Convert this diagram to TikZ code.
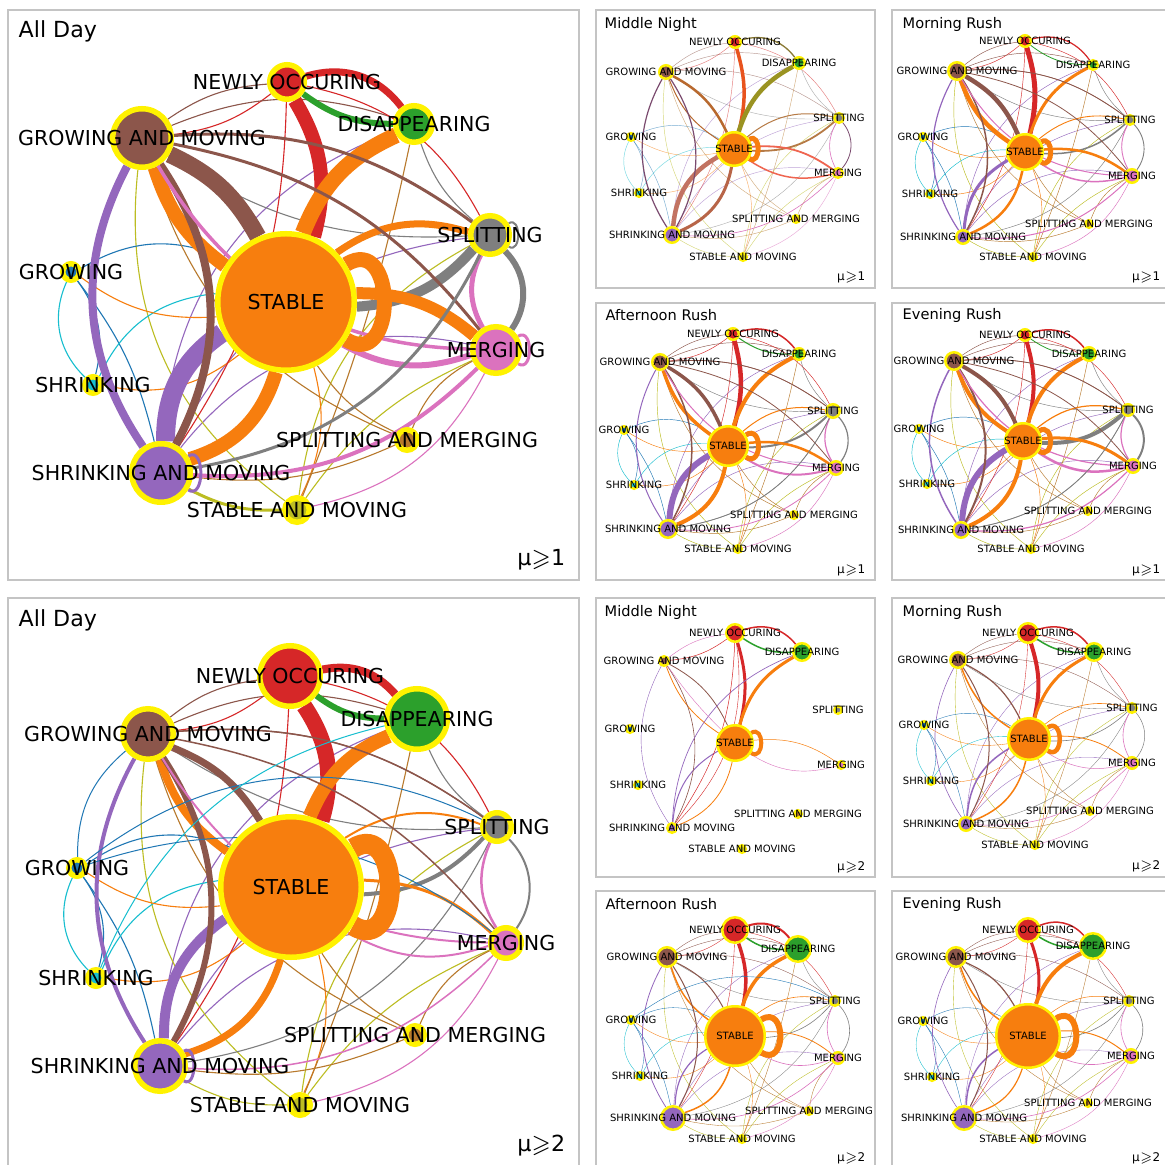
\documentclass[tikz,border=0pt]{standalone}
\usepackage{amssymb}
\usepackage{fontspec}
\setmainfont{DejaVu Sans}
\usetikzlibrary{positioning}

\definecolor{c-st}{HTML}{F77E0E}
\definecolor{c-no}{HTML}{D62728}
\definecolor{c-dis}{HTML}{2CA02C}
\definecolor{c-gam}{HTML}{8C564B}
\definecolor{c-gr}{HTML}{1F77B4}
\definecolor{c-sh}{HTML}{17BECF}
\definecolor{c-sam}{HTML}{9467BD}
\definecolor{c-stm}{HTML}{BCBD22}
\definecolor{c-spm}{HTML}{B8792C}
\definecolor{c-mer}{HTML}{DB72BE}
\definecolor{c-spl}{HTML}{7F7F7F}
\definecolor{c-frm}{HTML}{C4C4C4}
% mixed colours of the middle night graph
\definecolor{c-mno}{HTML}{E8531E}
\definecolor{c-mst}{HTML}{9A9322}
\definecolor{c-mnd}{HTML}{8A7A35}
\definecolor{c-mgam}{HTML}{B8692F}
\definecolor{c-msam}{HTML}{C27362}
\definecolor{c-msam2}{HTML}{B86548}
\definecolor{c-mspl}{HTML}{B67A45}
\definecolor{c-mmer}{HTML}{EF6550}
\definecolor{c-mgs}{HTML}{7B4B6F}

\newcommand\txtno{NEWLY OCCURING}
\newcommand\txtdis{DISAPPEARING}
\newcommand\txtgam{GROWING AND MOVING}
\newcommand\txtgr{GROWING}
\newcommand\txtsh{SHRINKING}
\newcommand\txtsam{SHRINKING AND MOVING}
\newcommand\txtstm{STABLE AND MOVING}
\newcommand\txtspm{SPLITTING AND MERGING}
\newcommand\txtmer{MERGING}
\newcommand\txtspl{SPLITTING}
\newcommand\txtst{STABLE}

\pgfdeclarelayer{bg}
\pgfdeclarelayer{edges}
\pgfdeclarelayer{labels}
\pgfsetlayers{bg,edges,main,labels}

% nodes of one graph: panel, ring width, font size, name/x/y/radius
\newcommand\vertices[4]{%
  \foreach \nn/\nx/\ny/\nr in {#4}{%
    \node[vert=c-\nn, line width=#2*0.01cm, minimum size=(2*\nr-#2)*0.01cm] (#1-\nn) at (\nx,-\ny) {};
    \begin{pgfonlayer}{labels}
      \node[font=\fontsize{#3}{#3}\selectfont, inner sep=0pt] at (#1-\nn) {\csname txt\nn\endcsname};
    \end{pgfonlayer}}}

% edges: from/to/colour/width/bend
\newcommand\net[2]{%
  \begin{pgfonlayer}{edges}
    \foreach \ea/\eb/\ec/\ew/\et in {#2}{%
      \draw[draw=c-\ec, line width=\ew*0.01cm] (#1-\ea) to[bend left=\et] (#1-\eb);}
  \end{pgfonlayer}}

% the many thin edges every graph shares
\def\thinlist{gam/spl/gam/20, gam/no/gam/15, no/gam/no/15, gam/dis/gam/20,
  no/spl/no/25, sam/dis/sam/33, sam/spl/sam/28, sam/mer/sam/32,
  gam/stm/stm/-30, spl/stm/stm/-27, mer/stm/stm/-15, gr/st/gr/28,
  gr/sam/gr/12, sh/st/sh/30, gr/sh/sh/-35, gr/sh/gr/25, sh/st/st/-25,
  gr/st/st/-20, st/stm/st/20, sam/spm/spm/-15, st/spm/spm/-15,
  spm/mer/spm/20, mer/stm/mer/25, spl/gam/spl/18, dis/spl/spl/-15,
  dis/stm/spm/5, gam/spm/spm/-25, sam/stm/stm/-15, sam/spl/spl/-27,
  no/sam/no/16}
\newcommand\thinnet[3]{%
  \begin{pgfonlayer}{edges}
    \foreach \ea/\eb/\ec/\et in \thinlist {%
      \draw[draw=c-\ec, line width=#2*0.01cm, #3] (#1-\ea) to[bend left=\et] (#1-\eb);}
  \end{pgfonlayer}}

% self loop on the right of a node: panel, node, reach, width
\newcommand\sloop[5][]{%
  \begin{pgfonlayer}{edges}
    \draw[draw=c-#3, line width=#5*0.01cm, #1] (#2-#3.32) .. controls +(32:#4) and +(-32:#4) .. (#2-#3.-32);
  \end{pgfonlayer}}

\begin{document}
\begin{tikzpicture}[x=0.01cm, y=0.01cm,
  vert/.style={circle, inner sep=0pt, draw=yellow, fill=#1},
  frm/.style={draw=c-frm, line width=0.015cm},
  ttlbig/.style={anchor=west, inner sep=0pt, font=\fontsize{6.3}{7}\selectfont},
  ttlsm/.style={anchor=west, inner sep=0pt, font=\fontsize{4.15}{5}\selectfont},
  mubig/.style={anchor=east, inner sep=0pt, font=\fontsize{6.3}{7}\selectfont},
  musm/.style={anchor=east, inner sep=0pt, font=\fontsize{3.4}{4}\selectfont}]

\useasboundingbox (0,0) rectangle (1164,-1165);
\begin{pgfonlayer}{bg}
  \fill[white] (0,0) rectangle (1164,-1165);
  \draw[frm] (8,-10) rectangle (579,-580);
  \draw[frm] (8,-598) rectangle (579,-1167);
  \draw[frm] (596,-10) rectangle (875,-288);
  \draw[frm] (892,-10) rectangle (1167,-288);
  \draw[frm] (596,-303) rectangle (875,-580);
  \draw[frm] (892,-303) rectangle (1167,-580);
  \draw[frm] (596,-598) rectangle (875,-877);
  \draw[frm] (892,-598) rectangle (1167,-877);
  \draw[frm] (596,-891) rectangle (875,-1167);
  \draw[frm] (892,-891) rectangle (1167,-1167);
\end{pgfonlayer}

% titles and thresholds
\node[ttlbig] (tA) at (18,-31) {All Day};
\node[ttlbig] (tB) at (18,-620) {All Day};
\node[ttlsm] (tC) at (604,-24) {Middle Night};
\node[ttlsm] (tD) at (902,-24) {Morning Rush};
\node[ttlsm] (tE) at (605,-315) {Afternoon Rush};
\node[ttlsm] (tF) at (902,-315) {Evening Rush};
\node[ttlsm] (tG) at (604,-612) {Middle Night};
\node[ttlsm] (tH) at (902,-612) {Morning Rush};
\node[ttlsm] (tI) at (605,-904) {Afternoon Rush};
\node[ttlsm] (tJ) at (902,-904) {Evening Rush};
\node[mubig] (mA) at (566,-560) {μ$\geqslant$1};
\node[mubig] (mB) at (566,-1146) {μ$\geqslant$2};
\node[musm] (mC) at (866,-277) {μ$\geqslant$1};
\node[musm] (mD) at (1161,-277) {μ$\geqslant$1};
\node[musm] (mE) at (866,-570) {μ$\geqslant$1};
\node[musm] (mF) at (1161,-570) {μ$\geqslant$1};
\node[musm] (mG) at (866,-867) {μ$\geqslant$2};
\node[musm] (mH) at (1161,-866) {μ$\geqslant$2};
\node[musm] (mI) at (866,-1158) {μ$\geqslant$2};
\node[musm] (mJ) at (1161,-1158) {μ$\geqslant$2};

% All Day, mu >= 1
\vertices{A}{5.5}{5.85}{no/287/82/20, dis/414/124/21, gam/142/138/32, gr/71/272/11,
  sh/93/385/11, sam/161/473/32, stm/297/510/15, spm/407/440/13, mer/496/350/26,
  spl/490/235/22, st/286/302/71}
\thinnet{A}{1.1}{}
\net{A}{st/no/no/14/-23, st/dis/st/16/22, no/dis/dis/6/-18, no/dis/no/7/35,
  gam/st/gam/17/18, gam/st/st/14/-18, sam/st/sam/19/28, sam/st/st/14/-28,
  gam/sam/sam/8/-31, gam/sam/gam/8/31, st/spl/spl/10/-22, st/spl/st/7/26,
  st/mer/st/12/20, st/mer/mer/6/-24, spl/mer/spl/6/40, spl/mer/mer/5/-28,
  sam/mer/mer/4/-24, gam/spl/gam/3/20, gam/mer/gam/3/20, mer/gam/mer/3.5/29,
  sam/stm/stm/3/-15, sam/spl/spl/3/-27}
\sloop{A}{st}{60}{15}
\sloop{A}{sam}{20}{3}
\sloop{A}{spl}{15}{2}
\sloop{A}{mer}{18}{3}

% All Day, mu >= 2
\vertices{B}{5.5}{5.85}{no/290/676/33, dis/417/719/33, gam/148/734/28, gr/77/868/11,
  sh/96/978/11, sam/160/1066/28, stm/300/1105/13, spm/415/1035/12, mer/506/943/18,
  spl/497/827/17, st/291/887/73}
\thinnet{B}{1.1}{}
\net{B}{st/no/no/16/-25, st/dis/st/14/22, no/dis/dis/6/-18, no/dis/no/8/30,
  gam/st/gam/7/18, gam/st/st/8/-18, sam/st/sam/10/28, sam/st/st/7/-28,
  gam/sam/sam/4/-31, gam/sam/gam/6/31, st/spl/spl/4/-22, st/spl/st/2/26,
  st/mer/st/3/20, st/mer/mer/2/-24, spl/mer/spl/2/40, spl/mer/mer/2.5/-28,
  sam/mer/mer/1.5/-24, gam/spl/gam/1.5/20, gam/mer/gam/1.5/20, mer/gam/mer/2/29,
  gr/spl/gr/1/32, sh/dis/sh/1/27, gam/gr/gr/1/-25, gr/mer/gr/1/28}
\sloop{B}{st}{58}{20}
\sloop{B}{sam}{16}{3}

% Middle Night, mu >= 1
\vertices{C}{2.5}{2.85}{no/735/42/7, dis/799/63/7, gam/666/72/8, gr/631/137/5,
  sh/639/193/5, sam/672/235/9, stm/743/257/5, spm/796/219/5, mer/838/173/6,
  spl/839/118/6, st/734/149/18}
\thinnet{C}{0.45}{opacity=.6}
\net{C}{st/no/mno/3.5/-15, st/dis/mst/4.5/22, no/dis/mnd/1.3/35,
  gam/st/mgam/2.5/18, gam/st/mgam/1/-18, sam/st/msam/4.5/28, sam/st/msam2/3/-28,
  gam/sam/mgs/1.2/-31, gam/sam/mgs/1.2/31, st/spl/mspl/1.8/-22, st/spl/mspl/1/26,
  st/mer/mmer/1.8/20, st/mer/mmer/1.5/-24, spl/mer/mgs/0.8/40, spl/mer/mer/0.6/-28,
  sam/mer/mer/0.6/-24}
\sloop{C}{st}{14}{5}

% Morning Rush, mu >= 1
\vertices{D}{2.5}{2.85}{no/1025/41/7, dis/1093/65/6, gam/957/71/10, gr/923/137/5,
  sh/930/194/5, sam/963/237/8, stm/1033/257/5, spm/1089/224/5, mer/1132/176/8,
  spl/1130/120/6, st/1025/152/19}
\thinnet{D}{0.45}{}
\net{D}{st/no/no/5/-15, st/dis/st/3/22, no/dis/dis/0.8/-18, no/dis/no/1.2/35,
  gam/st/gam/4.5/18, gam/st/st/4.5/-18, sam/st/sam/3/28, sam/st/st/2.5/-28,
  gam/sam/sam/1.2/-31, gam/sam/gam/1.5/31, st/spl/spl/1.5/-22, st/spl/st/0.9/26,
  st/mer/st/2.5/20, st/mer/mer/1.5/-24, spl/mer/spl/0.9/40, spl/mer/mer/0.9/-28,
  sam/mer/mer/1/-24, gam/spl/gam/0.8/20, gam/mer/gam/0.8/20, mer/gam/mer/1/29}
\sloop{D}{st}{15}{5}

% Afternoon Rush, mu >= 1
\vertices{E}{2.5}{2.85}{no/733/334/7, dis/799/354/7, gam/660/362/9, gr/624/430/5,
  sh/634/485/5, sam/668/529/10, stm/738/549/5, spm/794/515/5, mer/836/468/8,
  spl/833/411/8, st/728/446/21}
\thinnet{E}{0.45}{}
\net{E}{st/no/no/4.5/-15, st/dis/st/4/22, no/dis/dis/1/-18, no/dis/no/1.5/35,
  gam/st/gam/3.5/18, gam/st/st/3.5/-18, sam/st/sam/6/28, sam/st/st/4/-28,
  gam/sam/sam/1/-31, gam/sam/gam/1.5/31, st/spl/spl/2/-22, st/spl/st/1/26,
  st/mer/st/2.5/20, st/mer/mer/2/-24, spl/mer/spl/1.2/40, spl/mer/mer/1.2/-28,
  sam/mer/mer/0.8/-24, gam/spl/gam/0.8/20, gam/mer/gam/0.8/20, mer/gam/mer/1/29,
  sam/spl/spl/0.8/-27}
\sloop{E}{st}{20}{5}

% Evening Rush, mu >= 1
\vertices{F}{2.5}{2.85}{no/1025/335/7, dis/1089/354/8, gam/954/361/10, gr/919/429/5,
  sh/927/484/5, sam/961/530/9, stm/1031/549/5, spm/1088/511/5, mer/1133/466/8,
  spl/1128/410/7, st/1023/441/19}
\thinnet{F}{0.45}{}
\net{F}{st/no/no/4/-15, st/dis/st/4/22, no/dis/dis/0.8/-18, no/dis/no/1.5/35,
  gam/st/gam/4/18, gam/st/st/4/-18, sam/st/sam/6/28, sam/st/st/4/-28,
  gam/sam/sam/1.5/-31, gam/sam/gam/2/31, st/spl/spl/4/-22, st/spl/st/1.2/26,
  st/mer/st/3/20, st/mer/mer/2.5/-24, spl/mer/spl/2/40, spl/mer/mer/1.2/-28,
  sam/mer/mer/1.2/-24, gam/spl/gam/0.8/20, gam/mer/gam/0.8/20, mer/gam/mer/1.2/29,
  sam/spl/spl/0.8/-27}
\sloop{F}{st}{18}{5}

% Middle Night, mu >= 2
\vertices{G}{2.5}{2.85}{no/735/633/10, dis/802/652/10, gam/664/661/6, gr/630/729/5,
  sh/638/785/5, sam/672/828/6, stm/742/849/5, spm/798/814/5, mer/841/765/5,
  spl/838/710/5, st/735/743/19}
\net{G}{st/no/no/3/-15, st/dis/st/3/22, no/dis/dis/1.5/-18, no/dis/no/1.5/35,
  gam/st/gam/0.8/18, gam/st/st/0.8/-18, sam/st/sam/1/28, sam/st/st/0.8/-28,
  gam/sam/sam/0.4/-31, gam/sam/gam/0.6/31, sam/dis/sam/0.7/33, st/mer/st/0.5/20,
  st/mer/mer/0.4/-24, no/gam/no/0.5/15, gam/no/mer/0.4/15, no/sam/no/0.5/16,
  no/sam/no/0.4/26, gam/st/mer/0.4/-5}
\sloop{G}{st}{16}{4}

% Morning Rush, mu >= 2
\vertices{H}{2.5}{2.85}{no/1028/633/11, dis/1094/652/10, gam/958/660/9, gr/924/725/5,
  sh/931/781/5, sam/966/824/8, stm/1035/845/5, spm/1090/811/5, mer/1132/763/7,
  spl/1132/708/6, st/1029/739/22}
\thinnet{H}{0.35}{}
\net{H}{st/no/no/4/-15, st/dis/st/3/22, no/dis/dis/1.5/-18, no/dis/no/1.5/35,
  gam/st/gam/1.2/18, gam/st/st/1.5/-18, sam/st/sam/1.5/28, sam/st/st/1.5/-28,
  gam/sam/sam/0.6/-31, gam/sam/gam/1/31, st/spl/spl/0.6/-22, st/spl/st/0.6/26,
  st/mer/st/0.8/20, st/mer/mer/0.5/-24, spl/mer/spl/0.5/40, spl/mer/mer/0.6/-28,
  sam/mer/mer/0.5/-24}
\sloop{H}{st}{19}{4.5}

% Afternoon Rush, mu >= 2
\vertices{I}{2.5}{2.85}{no/735/930/14, dis/798/949/14, gam/667/957/11, gr/631/1020/5,
  sh/640/1076/5, sam/673/1118/13, stm/742/1139/5, spm/809/1111/5, mer/838/1058/7,
  spl/835/1001/6, st/735/1036/31}
\thinnet{I}{0.35}{}
\net{I}{st/no/no/3.5/-15, st/dis/st/3.5/22, no/dis/dis/1.5/-18, no/dis/no/2/35,
  gam/st/gam/1/18, gam/st/st/1.5/-18, sam/st/sam/1.2/28, sam/st/st/1.5/-28,
  gam/sam/sam/0.8/-31, gam/sam/gam/1/31, st/spl/spl/0.6/-22, st/spl/st/0.6/26,
  st/mer/st/0.8/20, st/mer/mer/0.6/-24, spl/mer/spl/0.6/40, spl/mer/mer/0.6/-28,
  sam/mer/mer/0.6/-24, gr/spl/gr/0.4/32}
\sloop{I}{st}{30}{6}

% Evening Rush, mu >= 2
\vertices{J}{2.5}{2.85}{no/1028/930/13, dis/1093/946/14, gam/956/957/11, gr/923/1021/5,
  sh/932/1077/5, sam/964/1118/13, stm/1033/1139/5, spm/1088/1103/5, mer/1131/1056/8,
  spl/1129/1001/6, st/1028/1036/33}
\thinnet{J}{0.35}{}
\net{J}{st/no/no/3/-15, st/dis/st/4/22, no/dis/dis/1.5/-18, no/dis/no/1.5/35,
  gam/st/gam/1.2/18, gam/st/st/1.5/-18, sam/st/sam/1.5/28, sam/st/st/1.2/-28,
  gam/sam/sam/0.6/-31, gam/sam/gam/1/31, st/spl/spl/0.6/-22, st/spl/st/0.5/26,
  st/mer/st/1/20, st/mer/mer/0.6/-24, spl/mer/spl/0.6/40, spl/mer/mer/0.6/-28,
  sam/mer/mer/0.6/-24}
\sloop{J}{st}{32}{6}
\end{tikzpicture}
\end{document}
